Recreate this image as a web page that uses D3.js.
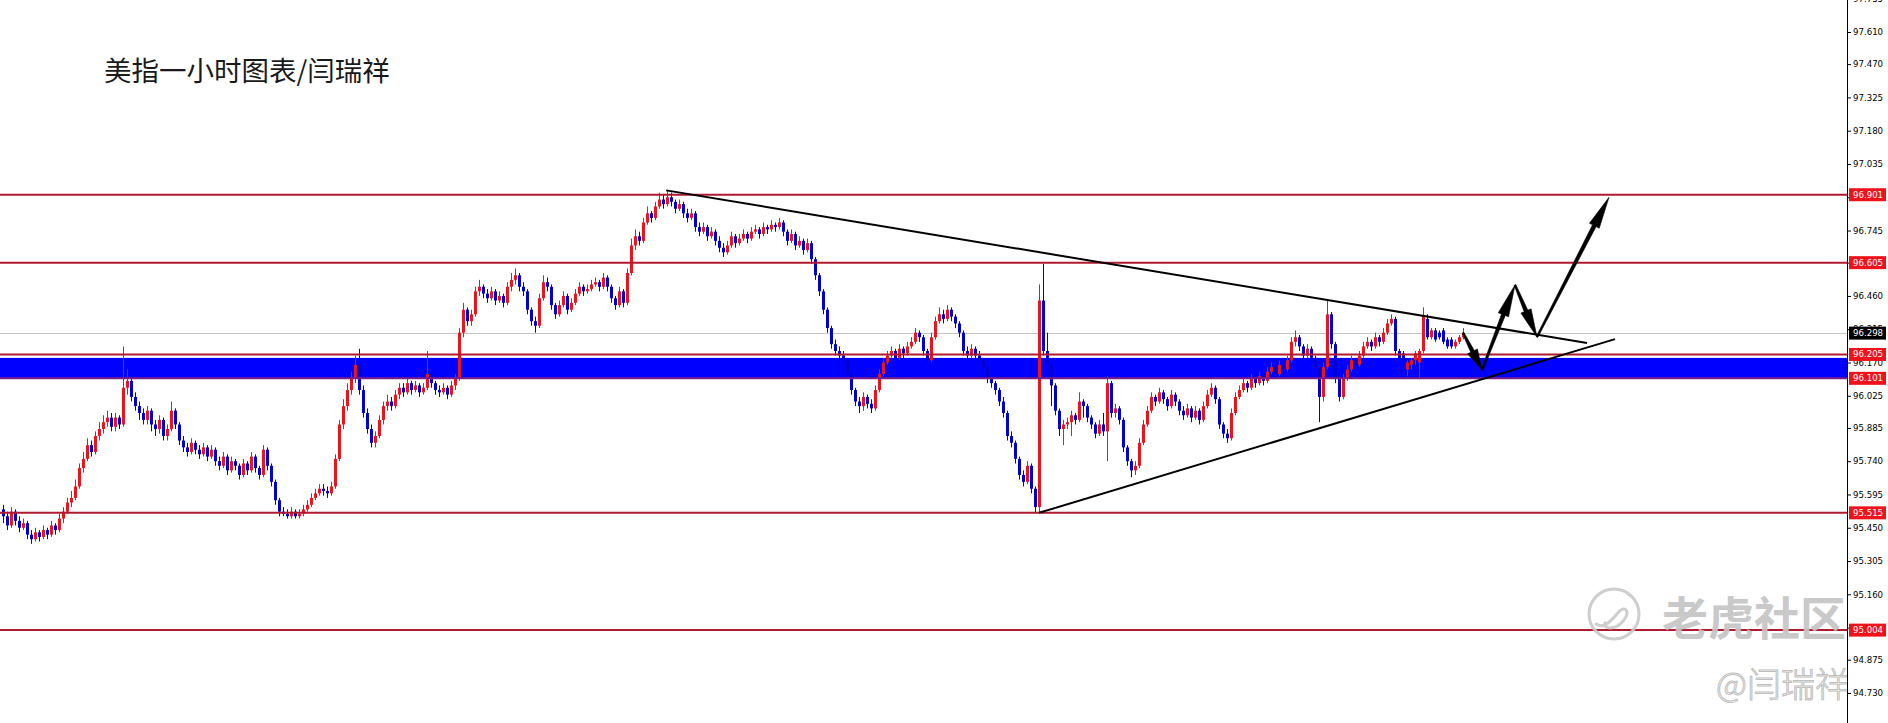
<!DOCTYPE html>
<html><head><meta charset="utf-8">
<script src="https://cdn.jsdelivr.net/npm/d3@7/dist/d3.min.js"></script>
<style>html,body{margin:0;padding:0;background:#fff;overflow:hidden}</style>
</head><body>
<svg id="chart" width="1888" height="723"></svg>
<script>
// ---------------- DATA ----------------
const title = "美指一小时图表/闫瑞祥";
const opens = [
95.53,95.50,95.46,95.52,95.48,95.45,95.47,95.42,95.40,95.43,
95.41,95.44,95.42,95.46,95.44,95.49,95.52,95.56,95.58,95.63,
95.71,95.75,95.81,95.78,95.85,95.88,95.91,95.93,95.89,95.93,
95.90,96.06,96.09,96.02,95.98,95.95,95.92,95.96,95.90,95.88,
95.92,95.85,95.88,95.96,95.90,95.83,95.80,95.78,95.82,95.79,
95.77,95.80,95.76,95.79,95.74,95.72,95.76,95.70,95.74,95.72,
95.68,95.73,95.70,95.76,95.71,95.68,95.79,95.72,95.65,95.57,
95.52,95.51,95.50,95.52,95.50,95.51,95.53,95.55,95.58,95.60,
95.62,95.61,95.60,95.63,95.75,95.90,95.98,96.05,96.10,96.16,
96.05,95.95,95.88,95.82,95.85,95.92,95.98,96.00,95.98,96.03,
96.06,96.04,96.08,96.05,96.07,96.04,96.06,96.12,96.08,96.05,
96.04,96.06,96.03,96.07,96.10,96.30,96.40,96.35,96.38,96.48,
96.50,96.47,96.45,96.48,96.44,96.46,96.43,96.50,96.53,96.55,
96.50,96.48,96.40,96.35,96.33,96.45,96.52,96.50,96.42,96.38,
96.42,96.46,96.40,96.43,96.47,96.50,96.48,96.49,96.51,96.52,
96.50,96.54,96.50,96.45,96.42,96.48,96.43,96.56,96.68,96.72,
96.70,96.78,96.82,96.80,96.85,96.88,96.86,96.89,96.87,96.84,
96.86,96.82,96.80,96.82,96.76,96.74,96.76,96.72,96.74,96.70,
96.67,96.65,96.68,96.72,96.69,96.71,96.73,96.71,96.74,96.75,
96.73,96.76,96.75,96.77,96.76,96.78,96.74,96.70,96.73,96.68,
96.70,96.66,96.69,96.62,96.55,96.48,96.40,96.32,96.25,96.22,
96.20,96.18,96.12,96.05,96.00,95.98,96.02,95.99,95.97,96.05,
96.12,96.17,96.20,96.22,96.19,96.23,96.21,96.24,96.26,96.30,
96.28,96.22,96.18,96.28,96.35,96.38,96.36,96.40,96.37,96.34,
96.30,96.22,96.20,96.23,96.20,96.18,96.15,96.10,96.08,96.05,
96.00,95.95,95.85,95.82,95.75,95.68,95.65,95.72,95.62,95.54,
96.44,96.22,96.16,96.07,95.96,95.88,95.90,95.91,95.94,95.92,
96.00,95.98,95.93,95.90,95.86,95.90,95.87,96.08,95.95,95.97,
95.92,95.80,95.74,95.70,95.72,95.82,95.90,95.96,96.02,96.00,
96.04,96.01,95.98,96.03,96.00,95.96,95.94,95.97,95.93,95.96,
95.92,95.98,96.03,96.06,96.01,95.90,95.86,95.84,95.95,96.02,
96.05,96.08,96.06,96.10,96.08,96.11,96.09,96.13,96.15,96.12,
96.16,96.14,96.18,96.26,96.28,96.24,96.20,96.23,96.19,96.15,
96.02,96.15,96.38,96.25,96.10,96.02,96.10,96.14,96.18,96.16,
96.20,96.24,96.26,96.24,96.28,96.26,96.30,96.34,96.36,96.22,
96.21,96.14,96.16,96.18,96.17,96.22,96.36,96.28,96.31,96.30,
96.31,96.27,96.27,96.24,96.26,96.28];
const highs = [
95.55,95.52,95.54,95.53,95.50,95.49,95.48,95.44,95.45,95.44,
95.46,95.45,95.48,95.47,95.51,95.54,95.58,95.61,95.66,95.73,
95.78,95.84,95.83,95.87,95.91,95.94,95.96,95.95,95.95,95.94,
96.24,96.14,96.10,96.04,96.00,95.97,95.98,95.97,95.92,95.94,
95.93,95.90,96.00,95.97,95.91,95.85,95.82,95.84,95.83,95.81,
95.82,95.81,95.81,95.80,95.76,95.78,95.77,95.76,95.75,95.73,
95.75,95.74,95.78,95.77,95.72,95.81,95.80,95.73,95.66,95.58,
95.54,95.53,95.54,95.53,95.53,95.55,95.57,95.60,95.62,95.64,
95.64,95.63,95.65,95.77,95.92,96.01,96.08,96.13,96.20,96.23,
96.07,95.97,95.90,95.87,95.94,96.00,96.03,96.02,96.05,96.08,
96.08,96.10,96.09,96.09,96.08,96.08,96.22,96.13,96.09,96.07,
96.08,96.07,96.09,96.12,96.32,96.43,96.41,96.40,96.50,96.53,
96.51,96.49,96.50,96.49,96.48,96.47,96.52,96.56,96.58,96.56,
96.52,96.49,96.41,96.37,96.47,96.55,96.54,96.51,96.43,96.44,
96.48,96.47,96.45,96.49,96.52,96.51,96.51,96.53,96.54,96.53,
96.56,96.55,96.51,96.46,96.50,96.49,96.58,96.71,96.75,96.74,
96.80,96.85,96.83,96.87,96.91,96.90,96.92,96.91,96.88,96.88,
96.87,96.84,96.84,96.83,96.78,96.78,96.77,96.76,96.75,96.72,
96.69,96.70,96.74,96.73,96.73,96.75,96.74,96.76,96.77,96.76,
96.78,96.77,96.79,96.78,96.80,96.79,96.75,96.75,96.74,96.72,
96.71,96.71,96.70,96.63,96.56,96.49,96.41,96.33,96.27,96.24,
96.22,96.19,96.13,96.06,96.02,96.04,96.03,96.01,96.07,96.14,
96.19,96.22,96.24,96.23,96.25,96.24,96.26,96.28,96.32,96.31,
96.29,96.23,96.30,96.37,96.41,96.40,96.42,96.41,96.38,96.35,
96.31,96.24,96.25,96.24,96.22,96.19,96.16,96.12,96.09,96.06,
96.02,95.96,95.87,95.83,95.76,95.70,95.74,95.73,95.63,96.51,
96.60,96.30,96.17,96.08,95.97,95.92,95.93,95.96,95.95,96.04,
96.01,95.99,95.94,95.91,95.92,95.95,96.11,96.09,95.99,95.98,
95.93,95.81,95.75,95.74,95.84,95.92,95.98,96.04,96.03,96.06,
96.05,96.02,96.05,96.04,96.01,95.98,95.99,95.98,95.98,95.97,
96.00,96.05,96.08,96.07,96.02,95.91,95.88,95.97,96.04,96.07,
96.10,96.09,96.12,96.11,96.13,96.12,96.15,96.17,96.16,96.18,
96.17,96.20,96.28,96.31,96.29,96.25,96.25,96.24,96.20,96.16,
96.17,96.44,96.39,96.26,96.11,96.12,96.16,96.20,96.19,96.22,
96.26,96.28,96.27,96.30,96.29,96.32,96.36,96.38,96.37,96.23,
96.22,96.18,96.19,96.22,96.23,96.41,96.38,96.32,96.32,96.31,
96.32,96.28,96.28,96.27,96.29,96.32];
const lows = [
95.47,95.44,95.45,95.46,95.43,95.44,95.40,95.38,95.39,95.39,
95.40,95.40,95.41,95.42,95.43,95.47,95.51,95.54,95.57,95.62,
95.69,95.74,95.76,95.77,95.83,95.86,95.89,95.87,95.87,95.88,
95.89,96.03,96.00,95.96,95.92,95.90,95.90,95.87,95.85,95.86,
95.83,95.83,95.87,95.88,95.81,95.78,95.76,95.77,95.77,95.75,
95.76,95.74,95.75,95.72,95.70,95.71,95.68,95.69,95.70,95.66,
95.67,95.68,95.69,95.69,95.66,95.67,95.70,95.63,95.55,95.50,
95.50,95.49,95.49,95.49,95.49,95.50,95.52,95.54,95.57,95.59,
95.59,95.58,95.59,95.62,95.74,95.88,95.96,96.03,96.08,96.03,
95.93,95.86,95.80,95.80,95.84,95.90,95.96,95.96,95.97,96.01,
96.02,96.03,96.03,96.04,96.02,96.03,96.05,96.06,96.03,96.02,
96.03,96.01,96.02,96.05,96.09,96.28,96.33,96.33,96.37,96.46,
96.45,96.43,96.44,96.42,96.43,96.41,96.42,96.48,96.51,96.48,
96.46,96.38,96.33,96.30,96.32,96.44,96.48,96.40,96.36,96.37,
96.41,96.38,96.39,96.42,96.46,96.46,96.47,96.48,96.50,96.48,
96.49,96.48,96.43,96.40,96.41,96.41,96.42,96.55,96.66,96.68,
96.69,96.77,96.78,96.79,96.84,96.84,96.85,96.85,96.82,96.83,
96.80,96.78,96.79,96.74,96.72,96.73,96.70,96.71,96.68,96.65,
96.63,96.64,96.67,96.67,96.68,96.70,96.69,96.70,96.73,96.71,
96.72,96.73,96.74,96.74,96.75,96.72,96.68,96.69,96.66,96.67,
96.64,96.65,96.60,96.53,96.46,96.38,96.30,96.23,96.20,96.18,
96.16,96.10,96.03,95.98,95.95,95.96,95.97,95.95,95.96,96.04,
96.11,96.16,96.19,96.17,96.18,96.19,96.20,96.23,96.25,96.26,
96.20,96.16,96.17,96.27,96.34,96.34,96.35,96.35,96.32,96.28,
96.20,96.18,96.19,96.18,96.16,96.13,96.08,96.06,96.03,95.98,
95.93,95.83,95.80,95.73,95.66,95.63,95.64,95.60,95.515,95.52,
96.20,96.14,95.98,95.94,95.85,95.81,95.88,95.85,95.90,95.91,
95.93,95.91,95.88,95.84,95.85,95.85,95.74,95.93,95.93,95.90,
95.78,95.72,95.67,95.68,95.71,95.81,95.89,95.95,95.98,95.99,
95.99,95.96,95.97,95.98,95.94,95.92,95.93,95.91,95.92,95.90,
95.91,95.97,96.02,95.99,95.88,95.84,95.82,95.83,95.94,96.01,
96.04,96.04,96.05,96.06,96.07,96.07,96.08,96.12,96.10,96.11,
96.12,96.13,96.17,96.24,96.22,96.18,96.19,96.17,96.13,95.91,
96.00,96.14,96.23,96.08,96.00,96.01,96.09,96.13,96.14,96.15,
96.19,96.23,96.22,96.23,96.24,96.25,96.29,96.33,96.20,96.17,
96.16,96.11,96.14,96.16,96.10,96.21,96.27,96.27,96.26,96.27,
96.25,96.23,96.23,96.23,96.25,96.27];
const closes = [
95.50,95.46,95.52,95.48,95.45,95.47,95.42,95.40,95.43,95.41,
95.44,95.42,95.46,95.44,95.49,95.52,95.56,95.58,95.63,95.71,
95.75,95.81,95.78,95.85,95.88,95.91,95.93,95.89,95.93,95.90,
96.06,96.09,96.02,95.98,95.95,95.92,95.96,95.90,95.88,95.92,
95.85,95.88,95.96,95.90,95.83,95.80,95.78,95.82,95.79,95.77,
95.80,95.76,95.79,95.74,95.72,95.76,95.70,95.74,95.72,95.68,
95.73,95.70,95.76,95.71,95.68,95.79,95.72,95.65,95.57,95.52,
95.51,95.50,95.52,95.50,95.51,95.53,95.55,95.58,95.60,95.62,
95.61,95.60,95.63,95.75,95.90,95.98,96.05,96.10,96.16,96.05,
95.95,95.88,95.82,95.85,95.92,95.98,96.00,95.98,96.03,96.06,
96.04,96.08,96.05,96.07,96.04,96.06,96.12,96.08,96.05,96.04,
96.06,96.03,96.07,96.10,96.30,96.40,96.35,96.38,96.48,96.50,
96.47,96.45,96.48,96.44,96.46,96.43,96.50,96.53,96.55,96.50,
96.48,96.40,96.35,96.33,96.45,96.52,96.50,96.42,96.38,96.42,
96.46,96.40,96.43,96.47,96.50,96.48,96.49,96.51,96.52,96.50,
96.54,96.50,96.45,96.42,96.48,96.43,96.56,96.68,96.72,96.70,
96.78,96.82,96.80,96.85,96.88,96.86,96.89,96.87,96.84,96.86,
96.82,96.80,96.82,96.76,96.74,96.76,96.72,96.74,96.70,96.67,
96.65,96.68,96.72,96.69,96.71,96.73,96.71,96.74,96.75,96.73,
96.76,96.75,96.77,96.76,96.78,96.74,96.70,96.73,96.68,96.70,
96.66,96.69,96.62,96.55,96.48,96.40,96.32,96.25,96.22,96.20,
96.18,96.12,96.05,96.00,95.98,96.02,95.99,95.97,96.05,96.12,
96.17,96.20,96.22,96.19,96.23,96.21,96.24,96.26,96.30,96.28,
96.22,96.18,96.28,96.35,96.38,96.36,96.40,96.37,96.34,96.30,
96.22,96.20,96.23,96.20,96.18,96.15,96.10,96.08,96.05,96.00,
95.95,95.85,95.82,95.75,95.68,95.65,95.72,95.62,95.54,96.44,
96.22,96.16,96.07,95.96,95.88,95.90,95.91,95.94,95.92,96.00,
95.98,95.93,95.90,95.86,95.90,95.87,96.08,95.95,95.97,95.92,
95.80,95.74,95.70,95.72,95.82,95.90,95.96,96.02,96.00,96.04,
96.01,95.98,96.03,96.00,95.96,95.94,95.97,95.93,95.96,95.92,
95.98,96.03,96.06,96.01,95.90,95.86,95.84,95.95,96.02,96.05,
96.08,96.06,96.10,96.08,96.11,96.09,96.13,96.15,96.12,96.16,
96.14,96.18,96.26,96.28,96.24,96.20,96.23,96.19,96.15,96.02,
96.15,96.38,96.25,96.10,96.02,96.10,96.14,96.18,96.16,96.20,
96.24,96.26,96.24,96.28,96.26,96.30,96.34,96.36,96.22,96.19,
96.18,96.17,96.18,96.21,96.22,96.37,96.28,96.31,96.27,96.28,
96.26,96.24,96.24,96.26,96.28,96.298];

const tickLabels = ["97.755","97.610","97.470","97.325","97.180","97.035","96.890","96.745","96.605","96.460","96.315","96.170","96.025","95.885","95.740","95.595","95.450","95.305","95.160","95.015","94.875","94.730"];
const levelPrices = [96.901, 96.605, 96.205, 96.101, 95.515, 95.004];
const levelLabels = ["96.901","96.605","96.205","96.101","95.515","95.004"];
const bandRange = [96.19, 96.101];
const currentPrice = 96.298;
const currentLabel = "96.298";
// trend lines: [startIndex, startPrice, endIndex, endPrice]
const trendLines = [[165.8, 96.92, 396, 96.255], [259, 95.515, 403, 96.272]];
// projected path (bar index, price)
const arrowPath = [[365, 96.30], [369.75, 96.137], [378, 96.508], [383.5, 96.281], [401.5, 96.89]];
const watermark1 = "老虎社区";
const watermark2 = "@闫瑞祥";

// ---------------- CHART ----------------
const W = 1888, H = 723, axisX = 1847;
const svg = d3.select("#chart");
const x = d3.scaleLinear().domain([0, 365]).range([3, 1463]);
const y = d3.scaleLinear().domain([94.730, 97.610]).range([693, 32]);

const RED = "#f0121a", BLUE = "#0000d0", LINE = "#b01a30";

// band
svg.append("rect").attr("x", 0).attr("width", axisX)
  .attr("y", y(bandRange[0])).attr("height", y(bandRange[1]) - y(bandRange[0]))
  .attr("fill", "#0000ff");

// current price line
svg.append("line").attr("x1", 0).attr("x2", axisX)
  .attr("y1", Math.round(y(currentPrice)) + 0.5).attr("y2", Math.round(y(currentPrice)) + 0.5)
  .attr("stroke", "#c4c4c4").attr("stroke-width", 1);

// candles
const data = closes.map((c, i) => ({i, o: opens[i], h: highs[i], l: lows[i], c}));
const g = svg.append("g");
g.selectAll("line.wick").data(data).join("line")
  .attr("x1", d => Math.round(x(d.i)) + 0.5).attr("x2", d => Math.round(x(d.i)) + 0.5)
  .attr("y1", d => y(d.h)).attr("y2", d => y(d.l))
  .attr("stroke", d => d.c >= d.o ? RED : BLUE).attr("stroke-width", 1);
g.selectAll("rect.body").data(data).join("rect")
  .attr("x", d => Math.round(x(d.i)) - 1).attr("width", 3)
  .attr("y", d => y(Math.max(d.o, d.c)))
  .attr("height", d => Math.max(1, Math.abs(y(d.o) - y(d.c))))
  .attr("fill", d => d.c >= d.o ? RED : BLUE);

// horizontal levels
svg.selectAll("line.level").data(levelPrices).join("line")
  .attr("x1", 0).attr("x2", axisX)
  .attr("y1", d => y(d)).attr("y2", d => y(d))
  .attr("stroke", (d, i) => i === 3 ? "#7d1f86" : LINE).attr("stroke-width", 2);

// trend lines
svg.selectAll("line.trend").data(trendLines).join("line")
  .attr("x1", d => x(d[0])).attr("y1", d => y(d[1]))
  .attr("x2", d => x(d[2])).attr("y2", d => y(d[3]))
  .attr("stroke", "#000").attr("stroke-width", 2);

// arrows
function arrowPoly(x0, y0, x1, y1) {
  const dx = x1 - x0, dy = y1 - y0, L = Math.hypot(dx, dy);
  const ux = dx / L, uy = dy / L, nx = -uy, ny = ux;
  const hl = Math.min(32, L * 0.5), hw = 5.5, sw0 = 0.9, sw1 = 2.0;
  const bx = x1 - ux * hl, by = y1 - uy * hl;
  return [[x0 + nx * sw0, y0 + ny * sw0], [bx + nx * sw1, by + ny * sw1], [bx + nx * hw, by + ny * hw],
    [x1, y1], [bx - nx * hw, by - ny * hw], [bx - nx * sw1, by - ny * sw1], [x0 - nx * sw0, y0 - ny * sw0]];
}
const segs = d3.pairs(arrowPath);
svg.selectAll("polygon.arrow").data(segs).join("polygon")
  .attr("points", d => arrowPoly(x(d[0][0]), y(d[0][1]), x(d[1][0]), y(d[1][1])).map(p => p.join(",")).join(" "))
  .attr("fill", "#000").attr("stroke", "#000").attr("stroke-width", 0.6).attr("stroke-linejoin", "round");

// title
svg.append("text").attr("x", 104).attr("y", 81).text(title)
  .attr("font-family", "'Noto Sans CJK SC', sans-serif").attr("font-size", 27.5)
  .attr("fill", "#1a1a1a");

// watermark
const wm = svg.append("g").attr("opacity", 0.9);
wm.append("circle").attr("cx", 1614).attr("cy", 614).attr("r", 25)
  .attr("fill", "none").attr("stroke", "#c9c9c9").attr("stroke-width", 3);
wm.append("path").attr("d", "M1596,624 q6,4 12,-1 q4,-3 9,-9 q5,-7 9,-4 q3,3 -2,10 q-6,8 -14,8 q-6,0 -5,-5")
  .attr("fill", "none").attr("stroke", "#c9c9c9").attr("stroke-width", 3).attr("stroke-linecap", "round");
wm.append("text").attr("x", 1662).attr("y", 635).text(watermark1)
  .attr("font-family", "'Noto Sans CJK SC', sans-serif").attr("font-weight", 700).attr("font-size", 46)
  .attr("fill", "#c4c4c4");
wm.append("text").attr("x", 1716).attr("y", 697).text(watermark2)
  .attr("font-family", "'Noto Sans CJK SC', sans-serif").attr("font-weight", 300).attr("font-size", 34)
  .attr("fill", "#fff").attr("stroke", "#b8b8b8").attr("stroke-width", 1);

// axis
const axis = d3.axisRight(y).tickValues(tickLabels.map(Number)).tickFormat((d, i) => tickLabels[i]).tickSize(4).tickPadding(2);
const ag = svg.append("g").attr("transform", `translate(${axisX},0)`).call(axis);
ag.select(".domain").remove();
ag.selectAll("text").attr("font-family", "'DejaVu Sans', sans-serif").attr("font-size", 8.6).attr("fill", "#000");
ag.selectAll("line").attr("stroke", "#000");
svg.append("line").attr("x1", axisX + 0.5).attr("x2", axisX + 0.5).attr("y1", 0).attr("y2", H)
  .attr("stroke", "#000").attr("stroke-width", 1);

// level labels
const lab = svg.selectAll("g.lab").data(levelPrices.map((p, i) => ({p, t: levelLabels[i], bg: RED}))
  .concat([{p: currentPrice, t: currentLabel, bg: "#000"}])).join("g")
  .attr("transform", d => `translate(${axisX + 2},${y(d.p)})`);
lab.append("rect").attr("x", 0).attr("y", -6.5).attr("width", 37).attr("height", 13).attr("fill", d => d.bg);
lab.append("text").attr("x", 4).attr("y", 0).attr("dy", "0.35em").text(d => d.t)
  .attr("font-family", "'DejaVu Sans', sans-serif").attr("font-size", 8.6).attr("fill", "#fff");
</script>
</body></html>
